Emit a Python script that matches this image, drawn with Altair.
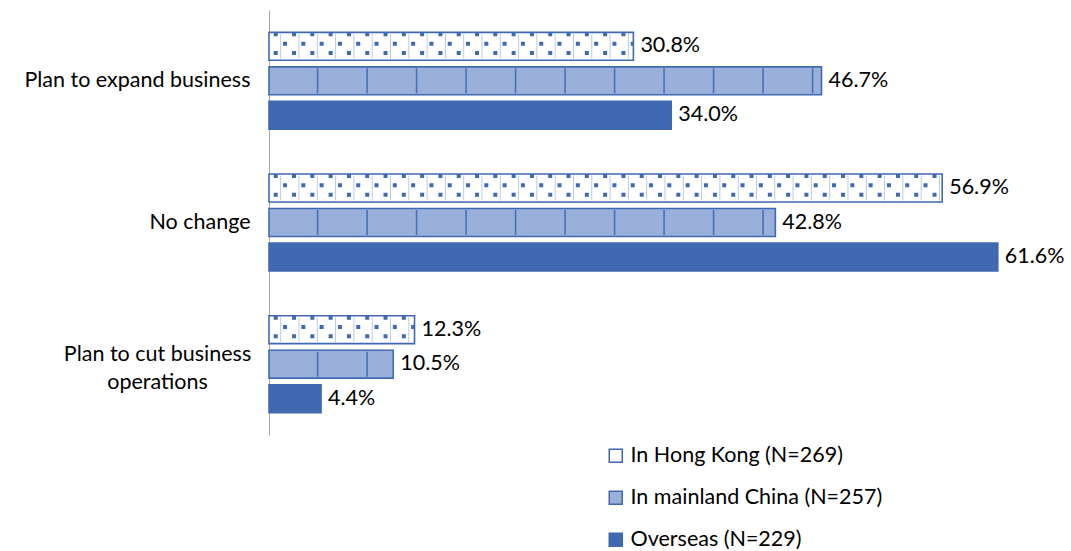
import altair as alt
import pandas as pd

categories = ["Plan to expand business", "No change", "Plan to cut business operations"]
series = ["In Hong Kong (N=269)", "In mainland China (N=257)", "Overseas (N=229)"]
hong_kong = [30.8, 56.9, 12.3]
mainland = [46.7, 42.8, 10.5]
overseas = [34.0, 61.6, 4.4]

rows = []
for i, c in enumerate(categories):
    for s, vals in zip(series, [hong_kong, mainland, overseas]):
        rows.append({"category": c, "series": s, "value": vals[i]})
df = pd.DataFrame(rows)

dot_rows_names = ["r1", "r2", "r3"]
dots = []
for i, c in enumerate(categories):
    for r in dot_rows_names:
        dots.append({"category": c, "row": r, "value": hong_kong[i]})
ddf = pd.DataFrame(dots)

BLUE = "#4169B1"
FONT = "Lato"
FS = 21.5
LONG = "Plan to cut business operations"
cond = "datum.value == '" + LONG + "'"

y_enc = alt.Y("category:N", sort=categories, scale=alt.Scale(paddingInner=0, paddingOuter=0),
              axis=alt.Axis(title=None, ticks=False, domainColor="#a6a6a6", domainWidth=1,
                            labelFont=FONT, labelFontSize=FS, labelColor="#000000",
                            labelPadding=alt.condition(cond, alt.value(112), alt.value(19)),
                            labelAlign=alt.condition(cond, alt.value("center"), alt.value("right")),
                            labelLimit=400, labelLineHeight=28,
                            labelOffset=alt.condition(cond, alt.value(-9), alt.value(0)),
                            labelExpr=cond + " ? ['Plan to cut business', 'operations'] : datum.value"))
yoff_scale = alt.Scale(domain=series, paddingInner=0.19, paddingOuter=0.648)
x_scale = alt.Scale(domain=[0, 65], nice=False)

base = alt.Chart(df)

bars = base.mark_bar(stroke=BLUE, strokeWidth=1.6).encode(
    y=y_enc,
    yOffset=alt.YOffset("series:N", sort=series, scale=yoff_scale),
    x=alt.X("value:Q", scale=x_scale, axis=None),
    fill=alt.Fill("series:N", sort=series,
                  scale=alt.Scale(domain=series, range=["#ffffff", "#9ab0db", BLUE]),
                  legend=alt.Legend(title=None, orient="none", legendX=336, legendY=435,
                                    symbolType="square", symbolSize=169,
                                    symbolStrokeColor=BLUE, symbolStrokeWidth=1.5,
                                    labelFont=FONT, labelFontSize=FS, labelColor="#000000",
                                    rowPadding=19, labelOffset=4, padding=0, labelLimit=400)),
)

# texture lines inside the patterned bars
def vlines(s, color, width, dash, dash_off):
    return (base.transform_filter(alt.datum.series == s).transform_calculate(zero="0.15")
            .mark_rule(color=color, strokeWidth=25, strokeDash=[width, dash - width],
                       strokeDashOffset=dash_off)
            .encode(y=alt.Y("category:N", sort=categories),
                    yOffset=alt.YOffset("series:N", sort=series, scale=yoff_scale),
                    x=alt.X("zero:Q", scale=x_scale), x2="value:Q"))

hk_lines = vlines(series[0], "#bccae8", 1, 18.3, 8.9)
mc_lines = vlines(series[1], "#4a6fb8", 1.6, 49.5, 3.5)

labels = base.mark_text(align="left", baseline="middle", dx=7, font=FONT, fontSize=FS,
                        color="#000000").encode(
    y=alt.Y("category:N", sort=categories),
    yOffset=alt.YOffset("series:N", sort=series, scale=yoff_scale),
    x=alt.X("value:Q", scale=x_scale),
    text="label:N",
).transform_calculate(label="format(datum.value, '.1f') + '%'")

main_layer = alt.layer(bars, hk_lines, mc_lines, labels)

dot_slots = ["s0", "s1"] + dot_rows_names + ["s%d" % i for i in range(5, 15)]
dot_scale = alt.Scale(domain=dot_slots, paddingInner=0, paddingOuter=0.09, align=0.6)
dot_layers = []
for r, dash_off in [("r1", 0), ("r2", 9), ("r3", 0)]:
    dot_layers.append(
        alt.Chart(ddf).transform_filter(alt.datum.row == r).transform_calculate(zero="0.4")
        .mark_rule(color=BLUE, strokeWidth=4, strokeDash=[4, 14.3], strokeDashOffset=dash_off)
        .encode(
            y=alt.Y("category:N", sort=categories),
            yOffset=alt.YOffset("row:N", scale=dot_scale),
            x=alt.X("zero:Q", scale=x_scale),
            x2="value:Q",
        )
    )
dots_layer = alt.layer(*dot_layers)

chart = alt.layer(main_layer, dots_layer).resolve_scale(yOffset="independent").properties(
    width=769, height=425,
    autosize=alt.AutoSizeParams(type="none"),
    padding={"left": 269, "top": 10, "right": 33, "bottom": 116},
).configure_view(strokeWidth=0)

chart.save("out.html", embed_options={"renderer": "svg", "actions": False})
